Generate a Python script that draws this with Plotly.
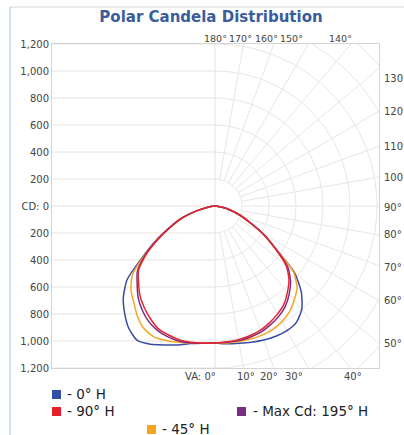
import numpy as np
import plotly.graph_objects as go

# ---------------- data ----------------
va_deg = [0, 5, 10, 15, 20, 25, 30, 35, 40, 45, 50, 55, 60, 65, 70, 75, 80, 85, 90]

# candela, right half (this plane) and left half (opposite plane)
blue_right = [1015, 1025, 1033, 1045, 1057, 1065, 1066, 1052, 1000, 905, 770, 545, 410, 280, 195, 120, 55, 15, 0]
blue_left = [1015, 1020, 1035, 1065, 1095, 1130, 1150, 1110, 1040, 960, 850, 650, 500, 365, 270, 140, 60, 20, 0]
orange_right = [1015, 1018, 1020, 1020, 1018, 1010, 990, 960, 912, 860, 760, 545, 410, 280, 195, 120, 55, 15, 0]
orange_left = [1015, 1020, 1030, 1045, 1060, 1070, 1050, 1000, 935, 880, 800, 640, 490, 360, 265, 140, 60, 20, 0]
red_right = [1010, 1010, 1005, 995, 980, 955, 925, 890, 835, 775, 690, 540, 410, 280, 195, 120, 55, 15, 0]
red_left = [1015, 1020, 1025, 1025, 1015, 1000, 960, 915, 865, 800, 740, 620, 480, 355, 255, 140, 60, 20, 0]
purple_right = [1012, 1013, 1012, 1006, 994, 972, 944, 908, 855, 792, 705, 545, 412, 282, 196, 120, 55, 15, 0]
purple_left = [1015, 1020, 1030, 1035, 1030, 1015, 985, 940, 885, 815, 750, 630, 485, 358, 258, 140, 60, 20, 0]

cd_ticks = [1200, 1000, 800, 600, 400, 200, 0, -200, -400, -600, -800, -1000, -1200]
cd_tick_text = ["1,200", "1,000", "800", "600", "400", "200", "CD: 0",
                "200", "400", "600", "800", "1,000", "1,200"]

top_labels = ["180°", "170°", "160°", "150°", "140°"]
right_labels = ["130°", "120°", "110°", "100°", "90°", "80°", "70°", "60°", "50°"]
bottom_labels = ["VA: 0°", "10°", "20°", "30°", "40°"]

legend_names = ["- 0° H", "- 90° H", "- Max Cd: 195° H", "- 45° H"]

# ---------------- styling / geometry ----------------
W, H = 404, 435
L, R, T, B = 52, 379, 44, 368          # plot area in px
XR = [-1207, 1215]
YR = [-1200, 1200]


def paper_x(px):
    return (px - L) / (R - L)


def paper_y(py):
    return (B - py) / (B - T)


fig = go.Figure()

# ---- grid: left half horizontal lines ----
gx, gy = [], []
for c in cd_ticks:
    gx += [XR[0], 0, None]
    gy += [c, c, None]
fig.add_trace(go.Scatter(x=gx, y=gy, mode="lines", line=dict(color="#e8e3de", width=1),
                         hoverinfo="skip", showlegend=False))

# ---- grid: right half arcs ----
ang = np.radians(np.linspace(0, 180, 181))
ax_, ay_ = [], []
for r in range(200, 1801, 200):
    ax_ += list(r * np.sin(ang)) + [None]
    ay_ += list(-r * np.cos(ang)) + [None]
fig.add_trace(go.Scatter(x=ax_, y=ay_, mode="lines", line=dict(color="#e8e6e6", width=1),
                         hoverinfo="skip", showlegend=False))

# ---- grid: radial lines ----
rx, ry = [], []
for a in range(10, 180, 10):
    t = np.radians(a)
    rx += [200 * np.sin(t), 2200 * np.sin(t), None]
    ry += [-200 * np.cos(t), -2200 * np.cos(t), None]
fig.add_trace(go.Scatter(x=rx, y=ry, mode="lines", line=dict(color="#e8e6e6", width=1),
                         hoverinfo="skip", showlegend=False))

# ---- vertical centre line ----
fig.add_trace(go.Scatter(x=[0, 0], y=[YR[0], YR[1]], mode="lines",
                         line=dict(color="#eee0d8", width=1), hoverinfo="skip", showlegend=False))

# ---- candela curves ----
va = np.radians(np.array(va_deg, dtype=float))


def curve(left, right):
    left = np.array(left, dtype=float)
    right = np.array(right, dtype=float)
    xl = -left * np.sin(va)
    yl = -left * np.cos(va)
    xr = right * np.sin(va)
    yr = -right * np.cos(va)
    x = np.concatenate([xl[::-1], xr[1:]])
    y = np.concatenate([yl[::-1], yr[1:]])
    return x, y


series = [
    (blue_left, blue_right, "#3a4ba6"),
    (orange_left, orange_right, "#f5a524"),
    (purple_left, purple_right, "#7e2c82"),
    (red_left, red_right, "#e3262e"),
]
for lft, rgt, col in series:
    x, y = curve(lft, rgt)
    fig.add_trace(go.Scatter(x=x, y=y, mode="lines",
                             line=dict(color=col, width=1.5, shape="spline", smoothing=0.6),
                             hoverinfo="skip", showlegend=False))

# ---- angle labels ----
lab_font = dict(family="DejaVu Sans", size=10, color="#444444")
top_font = dict(family="DejaVu Sans", size=9.5, color="#444444")
annotations = []
top_px = [215, 240, 266, 291, 340]
for txt, p in zip(top_labels, top_px):
    annotations.append(dict(x=paper_x(p), y=paper_y(39), xref="paper", yref="paper", text=txt,
                            showarrow=False, font=top_font, xanchor="center", yanchor="middle"))
right_py = [78, 111, 146, 177, 207, 235, 267, 300, 343]
for txt, p in zip(right_labels, right_py):
    annotations.append(dict(x=paper_x(382), y=paper_y(p), xref="paper", yref="paper", text=txt,
                            showarrow=False, font=lab_font, xanchor="left", yanchor="middle"))
bottom_px = [218, 246, 269, 294, 353]
for i, (txt, p) in enumerate(zip(bottom_labels, bottom_px)):
    annotations.append(dict(x=paper_x(p), y=paper_y(377), xref="paper", yref="paper", text=txt,
                            showarrow=False, font=lab_font,
                            xanchor="right" if i == 0 else "center", yanchor="middle"))

# ---- legend (custom layout) ----
leg_colors = ["#3050a8", "#e32028", "#7e2c82", "#f5a524"]
leg_sq = [(52, 390), (52, 407), (237, 407), (147, 425)]
leg_txt = [(65, 394), (65, 411), (251, 411), (160, 429)]
shapes = []
for col, (qx, qy), (tx, ty), name in zip(leg_colors, leg_sq, leg_txt, legend_names):
    shapes.append(dict(type="rect", xref="paper", yref="paper",
                       x0=paper_x(qx), x1=paper_x(qx + 9), y0=paper_y(qy), y1=paper_y(qy + 9),
                       fillcolor=col, line=dict(width=0)))
    annotations.append(dict(x=paper_x(tx), y=paper_y(ty), xref="paper", yref="paper", text=name,
                            showarrow=False, xanchor="left", yanchor="middle",
                            font=dict(family="DejaVu Sans", size=13.5, color="#222222")))

# outer frame lines
shapes.append(dict(type="line", xref="paper", yref="paper", x0=paper_x(10), x1=paper_x(404),
                   y0=paper_y(7), y1=paper_y(7), line=dict(color="#d8d8d8", width=1)))
shapes.append(dict(type="line", xref="paper", yref="paper", x0=paper_x(10), x1=paper_x(10),
                   y0=paper_y(7), y1=paper_y(440), line=dict(color="#a9c2e6", width=1)))

fig.update_layout(
    width=W, height=H,
    margin=dict(l=L, r=W - R, t=T, b=H - B, pad=0),
    paper_bgcolor="white", plot_bgcolor="white",
    title=dict(text="<b>Polar Candela Distribution</b>", x=211 / W, xref="container",
               y=1 - 17 / H, yref="container", xanchor="center", yanchor="middle",
               font=dict(family="DejaVu Sans", size=15, color="#3b5c9c")),
    xaxis=dict(range=XR, showgrid=False, zeroline=False, showticklabels=False, ticks="",
               showline=True, mirror=True, linecolor="#d4d4d4", linewidth=1, fixedrange=True),
    yaxis=dict(range=YR, showgrid=False, zeroline=False, tickmode="array", tickvals=cd_ticks,
               ticktext=cd_tick_text, ticks="", tickfont=lab_font,
               showline=True, mirror=True, linecolor="#d4d4d4", linewidth=1, fixedrange=True),
    annotations=annotations,
    shapes=shapes,
    showlegend=False,
)

fig.write_html("out.html", config={"displayModeBar": False},
               post_script="document.body.style.margin='0';document.body.style.overflow='hidden';")
